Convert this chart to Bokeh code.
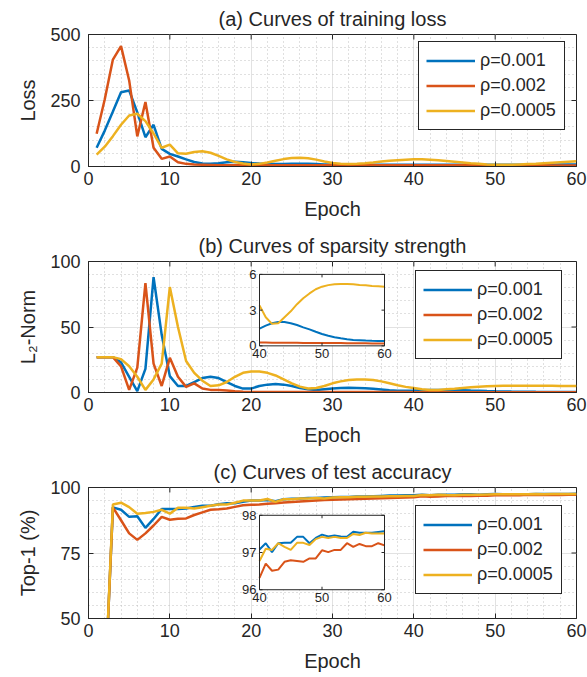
from bokeh.plotting import figure
from bokeh.layouts import column
from bokeh.models import FixedTicker, Range1d, Legend, LegendItem
from bokeh.embed import file_html
from bokeh.resources import INLINE
from bokeh.core.properties import value

# ---------------- data ----------------
epochs = list(range(1, 61))
labels = ["ρ=0.001", "ρ=0.002", "ρ=0.0005"]

loss_001 = [71, 136, 208, 281, 288, 205, 111, 158, 67, 48,
            38, 27, 17, 11, 10, 12, 16, 18, 16, 13,
            11, 10, 9, 9, 10, 10, 10, 9, 8, 8,
            7, 7, 7, 7, 7, 7, 7, 7, 7, 7,
            7, 7, 7, 7, 7, 7, 7, 7, 7, 7,
            7, 7, 7, 7, 7, 7, 7, 8, 8, 8]
loss_002 = [124, 255, 405, 456, 326, 114, 244, 71, 29, 38,
            16, 10, 8, 7, 6, 5, 5, 5, 5, 5,
            5, 5, 5, 5, 5, 5, 5, 5, 5, 5,
            5, 5, 5, 5, 5, 5, 5, 5, 5, 5,
            5, 5, 5, 5, 5, 5, 5, 5, 5, 5,
            5, 5, 5, 5, 5, 5, 4, 4, 4, 4]
loss_0005 = [45, 75, 115, 158, 193, 200, 172, 125, 71, 83,
             50, 48, 55, 58, 52, 40, 27, 17, 11, 8,
             10, 15, 22, 28, 32, 33, 31, 26, 19, 13,
             10, 9, 10, 12, 15, 19, 22, 24, 26, 27,
             27, 26, 24, 21, 18, 15, 12, 10, 8, 7,
             7, 7, 8, 9, 10, 12, 14, 16, 18, 20]

norm_001 = [27, 27, 27, 23, 12, 1, 18, 88, 44, 12.5,
            5, 5, 8, 11, 12, 11, 8, 5, 3, 3,
            5, 6, 6.5, 6, 5, 3.5, 2.5, 2, 2.5, 3,
            3.5, 3.6, 3.5, 3.2, 2.8, 2.3, 1.8, 1.4, 1.3, 1.45,
            1.7, 1.9, 2.0, 2.0, 1.9, 1.75, 1.55, 1.38, 1.18, 1.0,
            0.85, 0.72, 0.63, 0.55, 0.5, 0.47, 0.44, 0.42, 0.41, 0.41]
norm_002 = [27, 27, 27, 20, 2, 19, 83.5, 22, 5, 26.5,
            12, 4.3, 7, 3, 2, 2, 1.5, 1, 0.6, 0.4,
            0.3, 0.3, 0.3, 0.3, 0.3, 0.3, 0.3, 0.3, 0.3, 0.3,
            0.3, 0.3, 0.3, 0.3, 0.3, 0.3, 0.3, 0.3, 0.3, 0.28,
            0.28, 0.27, 0.27, 0.27, 0.26, 0.26, 0.25, 0.25, 0.25, 0.24,
            0.24, 0.23, 0.23, 0.22, 0.22, 0.21, 0.21, 0.2, 0.2, 0.19]
norm_0005 = [27, 27, 27, 25.5, 20, 12, 2, 10, 22, 80.5,
             50, 24, 15, 9, 5, 5.5, 8, 12, 15, 16,
             16, 15, 13, 10, 7, 4.5, 3, 3.5, 5, 7,
             8.5, 9.5, 10, 10, 9.5, 8.5, 7, 5.5, 4.3, 3.4,
             2.4, 1.85, 1.9, 2.4, 2.9, 3.5, 4.0, 4.4, 4.75, 4.97,
             5.1, 5.17, 5.2, 5.2, 5.18, 5.12, 5.08, 5.03, 5.0, 4.97]

acc_001 = [10, 21, 92.4, 91.5, 88.8, 89, 84.6, 88, 91.8, 91.8,
           91.8, 92, 92.6, 93, 93, 93.6, 94, 94, 94.6, 95,
           95, 95.2, 94.8, 95.5, 95.7, 95.8, 96, 96, 96.2, 96.3,
           96.4, 96.4, 96.6, 96.6, 96.7, 96.8, 96.9, 96.9, 97.0, 97.08,
           97.25, 97.01, 97.25, 97.26, 97.26, 97.42, 97.42, 97.25, 97.39, 97.48,
           97.43, 97.46, 97.43, 97.42, 97.56, 97.53, 97.53, 97.53, 97.55, 97.57]
acc_002 = [10, 21, 92.4, 87.5, 82.5, 80, 82.5, 85.5, 88.8, 87.7,
           88.1, 88.2, 89.5, 90.5, 91.5, 91.7, 92, 92.6, 93.2, 93.4,
           93.5, 93.8, 94, 94.3, 94.5, 94.7, 94.8, 95, 95.2, 95.3,
           95.4, 95.5, 95.6, 95.7, 95.8, 95.9, 96.0, 96.1, 96.2, 96.32,
           96.7, 96.51, 96.54, 96.75, 96.79, 96.77, 96.75, 96.84, 96.84, 97.06,
           97.01, 97.07, 97.07, 97.25, 97.15, 97.23, 97.17, 97.17, 97.25, 97.19]
acc_0005 = [10, 21, 93.5, 94.2, 92.5, 90, 90.3, 90.7, 91.5, 90,
            92.3, 92.3, 92, 92.5, 93, 93.5, 93.5, 94.2, 95, 95,
            95, 95.6, 94.5, 95.5, 95.5, 95.8, 95.8, 96, 95.8, 96.2,
            96.3, 96.3, 96.5, 96.5, 96.6, 96.6, 96.7, 96.7, 96.8, 96.77,
            97.1, 97.07, 97.25, 97.15, 97.07, 97.26, 97.26, 97.2, 97.36, 97.42,
            97.39, 97.42, 97.39, 97.39, 97.5, 97.47, 97.53, 97.51, 97.51, 97.51]

x_ticks = [0, 10, 20, 30, 40, 50, 60]
x_minor = list(range(0, 61, 2))
loss_ticks = [0, 250, 500]
loss_minor = list(range(0, 501, 50))
norm_ticks = [0, 50, 100]
norm_minor = list(range(0, 101, 10))
acc_ticks = [50, 75, 100]
acc_minor = list(range(50, 101, 5))
inset_x_ticks = [40, 50, 60]
norm_inset_ticks = [0, 3, 6]
acc_inset_ticks = [96, 97, 98]

# ---------------- style ----------------
FONT = "Liberation Sans"
TXT = "#262626"
COLORS = ["#0072BD", "#D95319", "#EDB120"]
FW, FH = 488, 132
ML, MR = 88, 11
W = ML + FW + MR


def add_inset(p, series, ydom, yticks, box):
    left, right, bottom, top = box
    xdom = (inset_x_ticks[0], inset_x_ticks[-1])
    sx = (xdom[1] - xdom[0]) / (right - left)
    sy = (ydom[1] - ydom[0]) / (top - bottom)
    p.extra_x_ranges = {"ix": Range1d(xdom[0] - left * sx, xdom[1] + (FW - right) * sx)}
    p.extra_y_ranges = {"iy": Range1d(ydom[0] - bottom * sy, ydom[1] + (FH - top) * sy)}
    kw = dict(x_range_name="ix", y_range_name="iy")
    p.quad(left=[xdom[0]], right=[xdom[1]], bottom=[ydom[0]], top=[ydom[1]],
           fill_color="white", line_color=None, **kw)
    sel = [i for i, e in enumerate(epochs) if e >= xdom[0]]
    for vals, c in zip(series, COLORS):
        p.line([epochs[i] for i in sel], [vals[i] for i in sel], line_color=c, line_width=2, **kw)
    p.quad(left=[xdom[0]], right=[xdom[1]], bottom=[ydom[0]], top=[ydom[1]],
           fill_color=None, line_color=TXT, line_width=1, **kw)
    tl = 3
    n = len(inset_x_ticks)
    p.segment(x0=inset_x_ticks, x1=inset_x_ticks, y0=[ydom[0]] * n, y1=[ydom[0] + tl * sy] * n,
              line_color=TXT, line_width=1, **kw)
    p.segment(x0=inset_x_ticks, x1=inset_x_ticks, y0=[ydom[1]] * n, y1=[ydom[1] - tl * sy] * n,
              line_color=TXT, line_width=1, **kw)
    m = len(yticks)
    p.segment(x0=[xdom[0]] * m, x1=[xdom[0] + tl * sx] * m, y0=yticks, y1=yticks,
              line_color=TXT, line_width=1, **kw)
    p.segment(x0=[xdom[1]] * m, x1=[xdom[1] - tl * sx] * m, y0=yticks, y1=yticks,
              line_color=TXT, line_width=1, **kw)
    p.text(x=inset_x_ticks, y=[ydom[0]] * n, text=[str(t) for t in inset_x_ticks],
           y_offset=3, text_align="center", text_baseline="top",
           text_font=value(FONT), text_font_size="13px", text_color=TXT, **kw)
    p.text(x=[xdom[0]] * m, y=yticks, text=[str(t) for t in yticks],
           x_offset=-3, text_align="right", text_baseline="middle",
           text_font=value(FONT), text_font_size="13px", text_color=TXT, **kw)


def panel(title, ylabel, series, yt, ym, height, mt, mb, leg, inset=None):
    yr = (yt[0], yt[-1])
    p = figure(width=W, height=height, x_range=Range1d(0, 60), y_range=Range1d(*yr),
               output_backend="svg", toolbar_location=None,
               min_border_left=ML, min_border_right=MR, min_border_top=mt, min_border_bottom=mb,
               background_fill_color="white", border_fill_color="white")
    p.title.text = title
    p.title.align = "center"
    p.title.text_font = FONT
    p.title.text_font_size = "20px"
    p.title.text_font_style = "normal"
    p.title.text_color = TXT
    p.title.standoff = 10
    p.xaxis.ticker = FixedTicker(ticks=x_ticks, minor_ticks=x_minor)
    p.yaxis.ticker = FixedTicker(ticks=yt, minor_ticks=ym)
    p.xaxis.axis_label = "Epoch"
    p.yaxis.axis_label = ylabel
    for ax in (p.xaxis[0], p.yaxis[0]):
        ax.axis_line_color = TXT
        ax.major_tick_line_color = TXT
        ax.major_tick_in = 5
        ax.major_tick_out = 0
        ax.minor_tick_in = 0
        ax.minor_tick_out = 0
        ax.major_label_text_font = FONT
        ax.major_label_text_font_size = "18px"
        ax.major_label_text_color = TXT
        ax.axis_label_text_font = FONT
        ax.axis_label_text_font_size = "20px"
        ax.axis_label_text_font_style = "normal"
        ax.axis_label_text_color = TXT
    p.xaxis.major_label_standoff = 5
    p.xaxis.axis_label_standoff = 10
    p.yaxis.major_label_standoff = 8
    p.yaxis.axis_label_standoff = 8
    p.outline_line_color = TXT
    p.outline_line_alpha = 1
    for g in (p.xgrid[0], p.ygrid[0]):
        g.grid_line_color = "#e2e2e2"
        g.grid_line_width = 1
        g.minor_grid_line_color = "#c0c0c0"
        g.minor_grid_line_dash = "1 3"
        g.minor_grid_line_width = 1
    rends = []
    for vals, c in zip(series, COLORS):
        rends.append(p.line(epochs, vals, line_color=c, line_width=2.5))
    # ticks on the top and right box edges
    sx = 60 / FW
    sy = (yr[1] - yr[0]) / FH
    tl = 5
    n = len(x_ticks)
    p.segment(x0=x_ticks, x1=x_ticks, y0=[yr[1]] * n, y1=[yr[1] - tl * sy] * n,
              line_color=TXT, line_width=1)
    m = len(yt)
    p.segment(x0=[60] * m, x1=[60 - tl * sx] * m, y0=yt, y1=yt, line_color=TXT, line_width=1)
    if inset is not None:
        add_inset(p, series, *inset)
    LH = 23
    SP = 2
    PAD = 7
    leg_h = 3 * LH + 2 * SP + 2 * PAD
    legend = Legend(items=[LegendItem(label=l, renderers=[r]) for l, r in zip(labels, rends)],
                    location=(leg[0], FH - leg[1] - leg_h),
                    label_text_font=FONT, label_text_font_size="18px", label_text_color=TXT,
                    border_line_color=TXT, border_line_width=1, border_line_alpha=1,
                    background_fill_color="white", background_fill_alpha=1,
                    glyph_width=49, glyph_height=LH, label_height=LH, label_width=77,
                    spacing=SP, padding=PAD, label_standoff=5, margin=0)
    p.add_layout(legend)
    return p


p1 = panel("(a) Curves of training loss", "Loss", [loss_001, loss_002, loss_0005],
           loss_ticks, loss_minor, 227, 34, 61, (330, 9))
p2 = panel("(b) Curves of sparsity strength", "L₂-Norm", [norm_001, norm_002, norm_0005],
           norm_ticks, norm_minor, 226, 33, 61, (327, 12),
           inset=((norm_inset_ticks[0], norm_inset_ticks[-1]), norm_inset_ticks, (171, 296, 47, 119)))
p3 = panel("(c) Curves of test accuracy", "Top-1 (%)", [acc_001, acc_002, acc_0005],
           acc_ticks, acc_minor, 224, 33, 59, (327, 21),
           inset=((acc_inset_ticks[0], acc_inset_ticks[-1]), acc_inset_ticks, (171, 296, 29, 104)))

layout = column(p1, p2, p3, spacing=0)
open("out.html", "w").write(file_html(layout, INLINE))
